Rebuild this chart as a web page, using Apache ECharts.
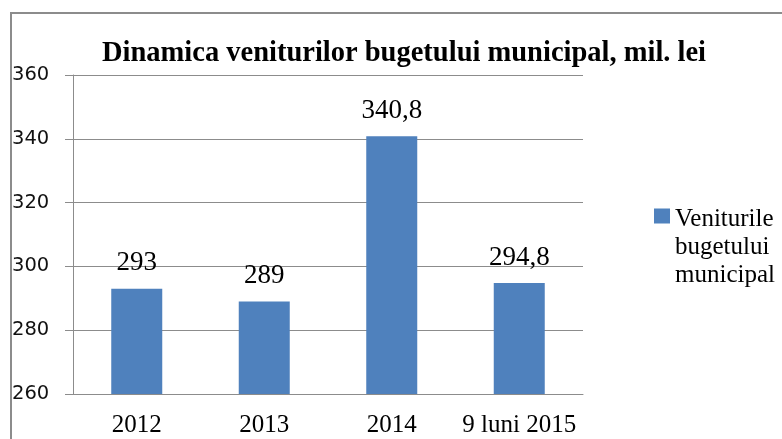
<!DOCTYPE html>
<html>
<head>
<meta charset="utf-8">
<script src="https://cdn.jsdelivr.net/npm/echarts@6/dist/echarts.min.js"></script>
<style>
  html, body { margin: 0; padding: 0; background: #fff; }
  #chart { width: 782px; height: 439px; }
</style>
</head>
<body>
<div id="chart"></div>
<script>
  // date
  var categories = ['2012', '2013', '2014', '9 luni 2015'];
  var venituri = [293, 289, 340.8, 294.8];
  var seriesName = 'Veniturile\nbugetului\nmunicipal';

  var serif = '"Liberation Serif", "Times New Roman", serif';
  var gray = '#8c8c8c';

  var myChart = echarts.init(document.getElementById('chart'));
  var option = {
    animation: false,
    title: {
      text: 'Dinamica veniturilor bugetului municipal, mil. lei',
      left: 399,
      top: 34,
      textAlign: 'center',
      textStyle: { fontFamily: serif, fontWeight: 'bold', fontSize: 28.5, color: '#000' }
    },
    graphic: [{
      type: 'rect',
      shape: { x: 11, y: 13, width: 820, height: 460 },
      style: { fill: 'none', stroke: gray, lineWidth: 2 },
      silent: true
    }],
    legend: {
      data: [seriesName],
      left: 649,
      top: 200,
      // patratel sus, langa primul rand de text
      icon: 'path://M0,7L16,7L16,22L0,22Z M0,84L0.01,84L0,84Z',
      itemWidth: 16,
      itemHeight: 84,
      itemGap: 0,
      textStyle: {
        fontFamily: serif, fontSize: 25, color: '#000', lineHeight: 28
      }
    },
    grid: { left: 73, right: 199, top: 75, bottom: 45 },
    xAxis: {
      type: 'category',
      data: categories,
      axisLine: { lineStyle: { color: gray } },
      axisTick: { length: 7, lineStyle: { color: gray } },
      axisLabel: { interval: 0, fontFamily: serif, fontSize: 25, color: '#000', margin: 19 }
    },
    yAxis: {
      type: 'value',
      min: 260,
      max: 360,
      interval: 20,
      axisLine: { show: true, lineStyle: { color: gray } },
      axisTick: { show: true, length: 8, lineStyle: { color: gray } },
      splitLine: { lineStyle: { color: gray } },
      axisLabel: {
        fontFamily: '"DejaVu Sans", Tahoma, sans-serif', fontSize: 19.5, color: '#111',
        align: 'left', margin: 61
      }
    },
    series: [{
      name: seriesName,
      type: 'bar',
      data: venituri,
      barWidth: '40%',
      itemStyle: { color: '#4f81bd' },
      label: {
        show: true,
        position: 'top',
        distance: 12,
        fontFamily: serif,
        fontSize: 27,
        color: '#000',
        formatter: function (p) { return String(p.value).replace('.', ','); }
      }
    }]
  };
  myChart.setOption(option);
</script>
</body>
</html>
